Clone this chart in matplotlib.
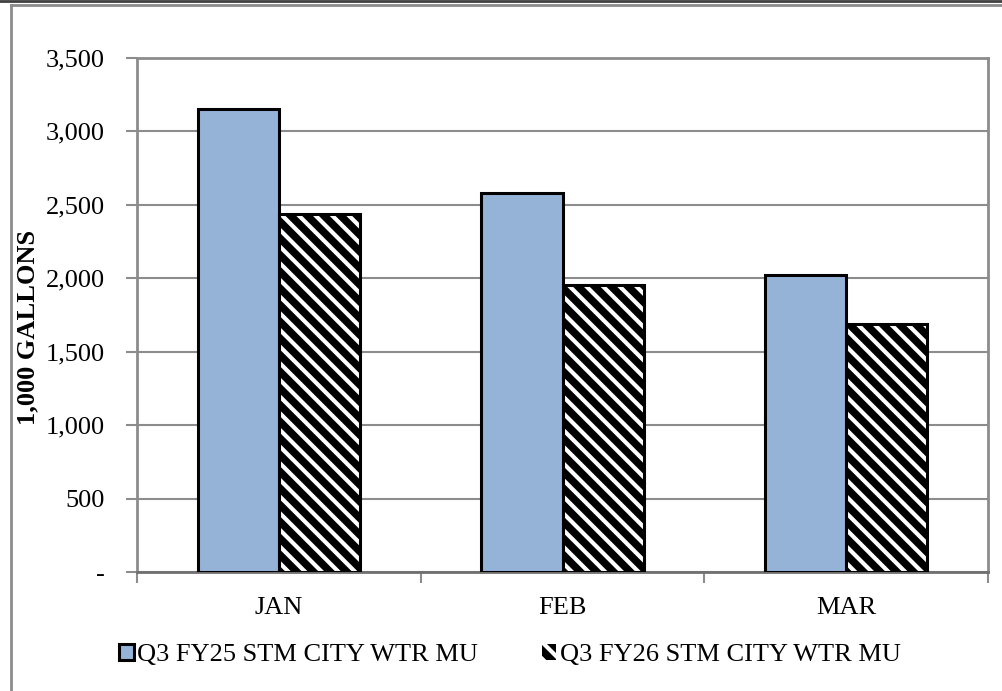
import matplotlib.pyplot as plt
from matplotlib.patches import Patch
from matplotlib.lines import Line2D
from matplotlib.ticker import FuncFormatter

# Monthly usage, thousands of gallons
months = ['JAN', 'FEB', 'MAR']
fy25 = [3155, 2580, 2020]
fy26 = [2435, 1955, 1690]
series = ['Q3 FY25 STM CITY WTR MU', 'Q3 FY26 STM CITY WTR MU']
yticks = [0, 500, 1000, 1500, 2000, 2500, 3000, 3500]

plt.rcParams['font.family'] = ['Liberation Serif', 'DejaVu Serif']
plt.rcParams['hatch.linewidth'] = 3.0

fig = plt.figure(figsize=(10.02, 6.91), dpi=100)
ax = fig.add_axes([137 / 1002, 119 / 691, 851 / 1002, 514 / 691])

grey = '#8c8c8c'
blue = '#95b3d7'
w = 1 / 3.5
x = list(range(len(months)))

ax.bar([i - w / 2 for i in x], fy25, width=w, color=blue, edgecolor='black', linewidth=2.2, zorder=3)
# hatched bars: black fill with white stripes, then a black outline
ax.bar([i + w / 2 for i in x], fy26, width=w, color='black', edgecolor='white', hatch='\\\\', linewidth=0, zorder=3)
ax.bar([i + w / 2 for i in x], fy26, width=w, fill=False, edgecolor='black', linewidth=2.2, zorder=4)

ax.set_xlim(-0.5, 2.5)
ax.set_ylim(0, 3500)
ax.set_yticks(yticks)
ax.yaxis.set_major_formatter(FuncFormatter(lambda v, p: '-' if v == 0 else f'{int(v):,}'))
ax.set_xticks(x)
ax.set_xticklabels(months)
ax.set_xticks([-0.5, 0.5, 1.5, 2.5], minor=True)
ax.tick_params(axis='x', which='major', length=0, pad=18, labelsize=19)
ax.tick_params(axis='x', which='minor', length=8, width=1.5, color=grey, direction='out')
ax.tick_params(axis='y', length=8, width=1.5, color=grey, labelsize=19, pad=15)

ax.grid(axis='y', color=grey, linewidth=1.5, zorder=0)
for s in ax.spines.values():
    s.set_color(grey)
    s.set_linewidth(2)
ax.spines['bottom'].set_color('#707070')

ax.set_ylabel('1,000 GALLONS', fontsize=19, fontweight='bold')
ax.yaxis.set_label_coords(-98 / 851, 0.475)

handles = [Patch(facecolor=blue, edgecolor='black', linewidth=2.2),
           Patch(facecolor='black', edgecolor='white', hatch='\\\\', linewidth=0)]
fig.legend(handles, series, loc='center', bbox_to_anchor=(0.509, 1 - 655 / 691), ncol=2,
           frameon=False, fontsize=19, handlelength=0.55, handleheight=0.55,
           handletextpad=0.15, columnspacing=2.4)

# outer frame around the chart
fig.add_artist(Line2D([0, 1], [1 - 0.5 / 691] * 2, color='#404040', linewidth=2, transform=fig.transFigure))
fig.add_artist(Line2D([11 / 1002, 1], [1 - 5 / 691] * 2, color=grey, linewidth=2, transform=fig.transFigure))
fig.add_artist(Line2D([11 / 1002] * 2, [0, 1 - 5 / 691], color=grey, linewidth=2, transform=fig.transFigure))

fig.savefig('out.png', dpi=100)
